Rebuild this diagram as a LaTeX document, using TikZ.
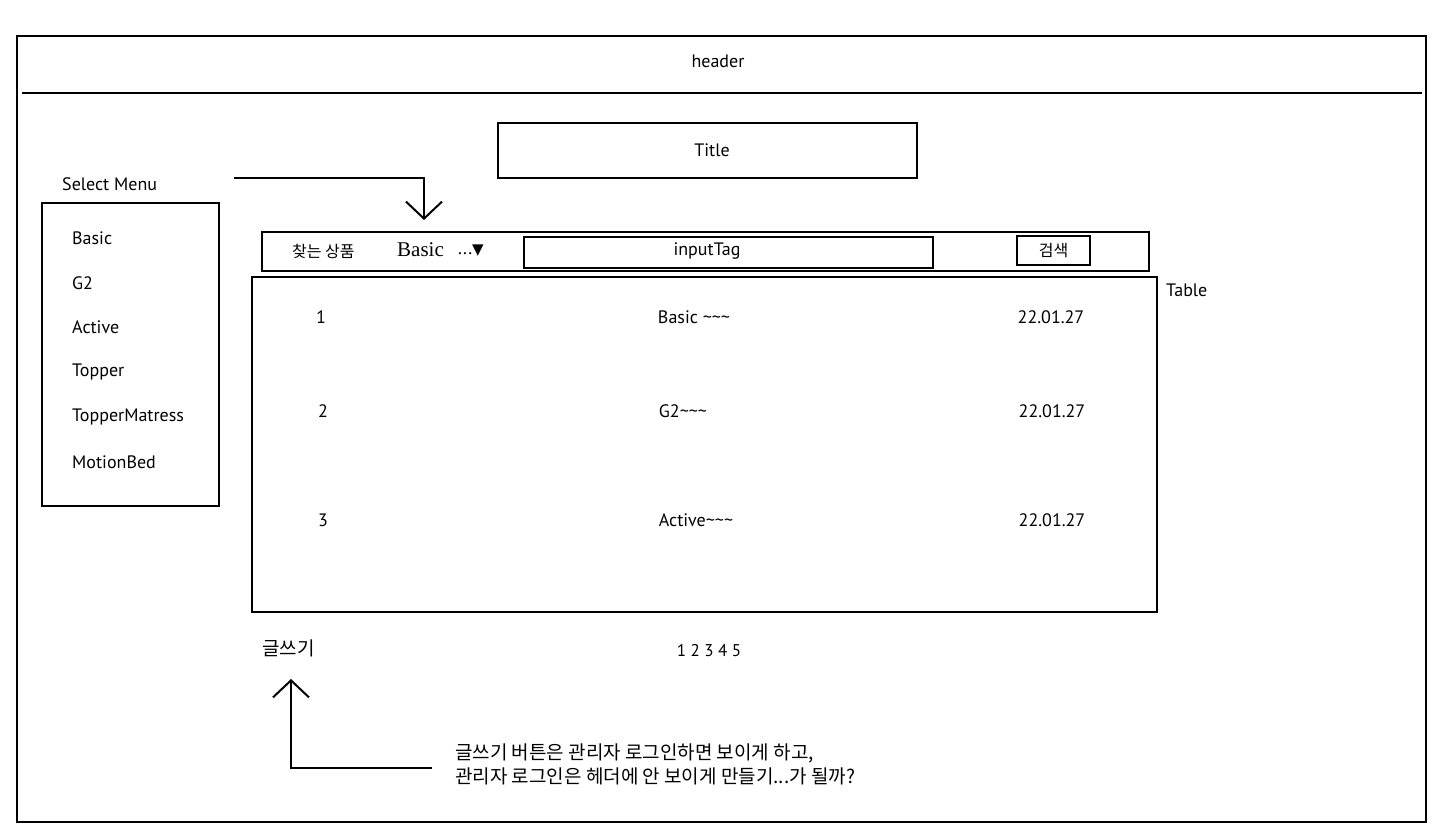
\documentclass[tikz,border=0pt]{standalone}
\usepackage{fontspec}
\setmainfont{PT Sans}
\newfontfamily\kr{Noto Sans CJK KR}
\newfontfamily\serifb{Liberation Serif}
\newfontfamily\dv{DejaVu Sans}
\usetikzlibrary{arrows.meta}
\begin{document}
\begin{tikzpicture}[x=1pt,y=-1pt,
  frame/.style={draw=black,line width=2pt,inner sep=0pt,outer sep=0pt},
  lbl/.style={font=\fontsize{18}{21}\selectfont,inner sep=0pt},
  lblw/.style={lbl,anchor=west},
  krl/.style={font=\kr\fontsize{19}{24}\selectfont,inner sep=0pt},
  conn/.style={draw=black,line width=2pt,-{Straight Barb[length=17pt,width=36pt,line width=2pt]}}]
\useasboundingbox[fill=white] (0,0) rectangle (1442,837);
% outer frame
\node[frame,minimum width=1409pt,minimum height=786pt] (page) at (721.5,429) {};
\coordinate (hl) at (22,93.5);
\coordinate (hr) at (1421.5,93.5);
\draw[line width=2pt] (hl) -- (hr);
\node[lbl] (header) at (718,61) {header};
% title
\node[frame,minimum width=419pt,minimum height=55pt] (title) at (707.5,150.5) {};
\node[lbl] (titlelbl) at (712,150) {Title};
% select menu
\node[lblw] (selmenu) at (62,184) {Select Menu};
\node[frame,minimum width=177pt,minimum height=303pt] (menu) at (130.5,354.5) {};
\node[lblw] (m1) at (72,238) {Basic};
\node[lblw] (m2) at (72,283) {G2};
\node[lblw] (m3) at (72,327) {Active};
\node[lblw] (m4) at (72,372) {Topper};
\node[lblw] (m5) at (72,417) {TopperMatress};
\node[lblw] (m6) at (72,462) {MotionBed};
% search bar
\node[frame,minimum width=887pt,minimum height=39pt] (search) at (705.5,251.5) {};
\node[font=\kr\fontsize{16}{19}\selectfont,inner sep=0pt,anchor=west] (find) at (292,251) {찾는 상품};
\node[anchor=west,inner sep=0pt,font=\serifb\fontsize{21}{24}\selectfont] (basicsel) at (397,250) {Basic};
\node[anchor=west,inner sep=0pt,font=\fontsize{18}{21}\selectfont] (drop) at (458,251) {...{\dv\fontsize{15}{18}\selectfont▼}};
\node[frame,minimum width=409pt,minimum height=31pt] (input) at (728.5,252) {};
\node[lbl] (inputlbl) at (707,251) {inputTag};
\node[frame,minimum width=73pt,minimum height=29pt,font=\kr\fontsize{16}{19}\selectfont] (btn) at (1053.5,250.5) {검색};
% arrow from select menu
\coordinate (a1s) at (234,178);
\coordinate (a1e) at (424,220);
\draw[conn] (a1s) -| (a1e);
% table
\node[frame,minimum width=905pt,minimum height=335pt] (table) at (704.5,444.5) {};
\node[lblw] (tablelbl) at (1166,290) {Table};
\node[lbl] (r1n) at (321,317) {1};
\node[lbl] (r1t) at (694,317) {Basic \textasciitilde\textasciitilde\textasciitilde};
\node[lbl] (r1d) at (1051,317) {22.01.27};
\node[lbl] (r2n) at (323,411) {2};
\node[lbl] (r2t) at (683,411) {G2\textasciitilde\textasciitilde\textasciitilde};
\node[lbl] (r2d) at (1052,411) {22.01.27};
\node[lbl] (r3n) at (323,520) {3};
\node[lbl] (r3t) at (696,520) {Active\textasciitilde\textasciitilde\textasciitilde};
\node[lbl] (r3d) at (1052,520) {22.01.27};
% below table
\node[krl,anchor=west] (write) at (262,648) {글쓰기};
\node[inner sep=0pt,font=\fontsize{17}{20}\selectfont] (pages) at (709,651) {1 2 3 4 5};
% note
\node[krl,anchor=west,align=left] (note) at (455,764) {글쓰기 버튼은 관리자 로그인하면 보이게 하고,\\관리자 로그인은 헤더에 안 보이게 만들기...가 될까?};
\coordinate (a2s) at (432,768);
\coordinate (a2e) at (291,679);
\draw[conn] (a2s) -| (a2e);
\end{tikzpicture}
\end{document}
